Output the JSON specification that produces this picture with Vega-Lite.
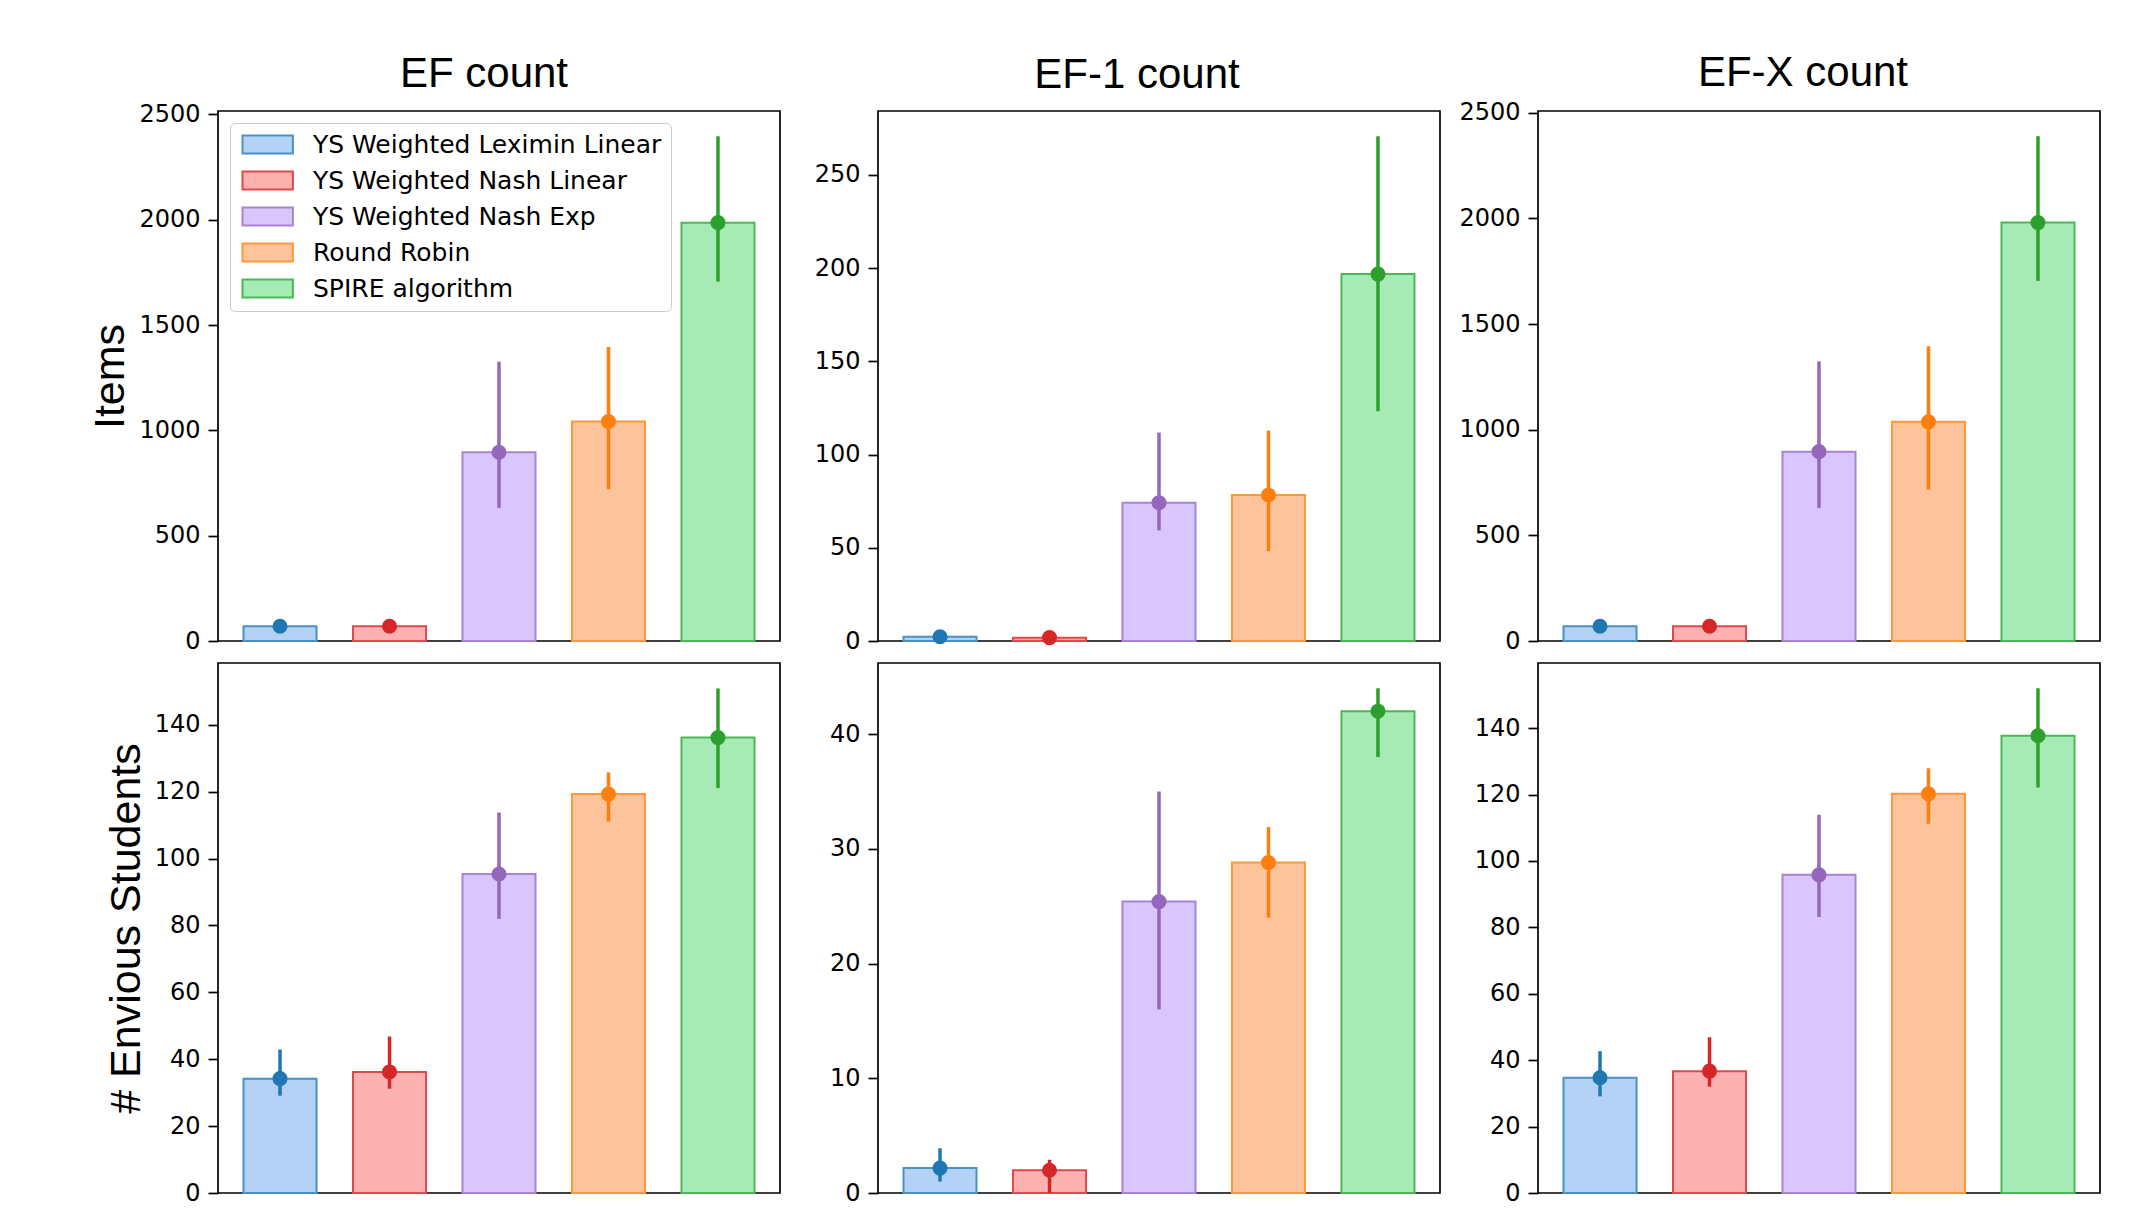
{
  "$schema": "https://vega.github.io/schema/vega-lite/v6.json",
  "background": "white",
  "padding": {"left": 89, "top": 50, "right": 52, "bottom": 21},
  "config": {
    "font": "Liberation Sans",
    "view": {"stroke": "#000000", "strokeWidth": 1.7},
    "axis": {"domain": false, "grid": false, "ticks": true, "tickColor": "#000000", "tickSize": 10, "tickWidth": 1.7, "labelFont": "DejaVu Sans", "labelFontSize": 24, "labelColor": "#000000", "labelPadding": 8, "labelOverlap": false, "labelFlush": false, "titleFont": "Liberation Sans", "titleFontSize": 43, "titleFontWeight": "normal", "titleColor": "#000000", "titlePadding": 6, "format": "d"},
    "title": {"font": "Liberation Sans", "fontSize": 42, "fontWeight": "normal", "color": "#000000", "anchor": "middle", "frame": "group", "baseline": "alphabetic"},
    "legend": {"orient": "top-left", "offset": 12, "symbolType": "M-1,-1L4.6,-1L4.6,1L-1,1Z", "symbolSize": 324, "symbolStrokeWidth": 2, "labelFont": "DejaVu Sans", "labelFontSize": 25, "labelColor": "#000000", "labelOffset": 49, "rowPadding": 9, "padding": 9, "strokeColor": "#cccccc", "fillColor": "#ffffff", "cornerRadius": 5, "labelLimit": 700}
  },
  "datasets": {
    "d": [
      {"panel": "EF_items", "method": "YS Weighted Leximin Linear", "value": 70, "lo": 62, "hi": 78},
      {"panel": "EF_items", "method": "YS Weighted Nash Linear", "value": 70, "lo": 62, "hi": 78},
      {"panel": "EF_items", "method": "YS Weighted Nash Exp", "value": 896, "lo": 632, "hi": 1326},
      {"panel": "EF_items", "method": "Round Robin", "value": 1042, "lo": 720, "hi": 1396},
      {"panel": "EF_items", "method": "SPIRE algorithm", "value": 1986, "lo": 1706, "hi": 2396},
      {"panel": "EF1_items", "method": "YS Weighted Leximin Linear", "value": 2.3, "lo": 1.5, "hi": 3.2},
      {"panel": "EF1_items", "method": "YS Weighted Nash Linear", "value": 1.8, "lo": 1.0, "hi": 2.6},
      {"panel": "EF1_items", "method": "YS Weighted Nash Exp", "value": 74.2, "lo": 59.3, "hi": 111.8},
      {"panel": "EF1_items", "method": "Round Robin", "value": 78.3, "lo": 48.2, "hi": 112.9},
      {"panel": "EF1_items", "method": "SPIRE algorithm", "value": 196.8, "lo": 123.3, "hi": 270.8},
      {"panel": "EFX_items", "method": "YS Weighted Leximin Linear", "value": 70, "lo": 62, "hi": 78},
      {"panel": "EFX_items", "method": "YS Weighted Nash Linear", "value": 70, "lo": 62, "hi": 78},
      {"panel": "EFX_items", "method": "YS Weighted Nash Exp", "value": 896, "lo": 629, "hi": 1323},
      {"panel": "EFX_items", "method": "Round Robin", "value": 1037, "lo": 717, "hi": 1395},
      {"panel": "EFX_items", "method": "SPIRE algorithm", "value": 1980, "lo": 1704, "hi": 2389},
      {"panel": "EF_env", "method": "YS Weighted Leximin Linear", "value": 34.2, "lo": 29.1, "hi": 42.9},
      {"panel": "EF_env", "method": "YS Weighted Nash Linear", "value": 36.2, "lo": 31.2, "hi": 46.8},
      {"panel": "EF_env", "method": "YS Weighted Nash Exp", "value": 95.4, "lo": 82.0, "hi": 113.8},
      {"panel": "EF_env", "method": "Round Robin", "value": 119.3, "lo": 111.1, "hi": 125.8},
      {"panel": "EF_env", "method": "SPIRE algorithm", "value": 136.2, "lo": 121.1, "hi": 150.9},
      {"panel": "EF1_env", "method": "YS Weighted Leximin Linear", "value": 2.17, "lo": 1.0, "hi": 3.9},
      {"panel": "EF1_env", "method": "YS Weighted Nash Linear", "value": 1.98, "lo": 0, "hi": 2.9},
      {"panel": "EF1_env", "method": "YS Weighted Nash Exp", "value": 25.4, "lo": 16.0, "hi": 35.0},
      {"panel": "EF1_env", "method": "Round Robin", "value": 28.8, "lo": 24.0, "hi": 31.9},
      {"panel": "EF1_env", "method": "SPIRE algorithm", "value": 42.0, "lo": 38.0, "hi": 44.0},
      {"panel": "EFX_env", "method": "YS Weighted Leximin Linear", "value": 34.7, "lo": 29.1, "hi": 42.7},
      {"panel": "EFX_env", "method": "YS Weighted Nash Linear", "value": 36.7, "lo": 32.0, "hi": 46.9},
      {"panel": "EFX_env", "method": "YS Weighted Nash Exp", "value": 95.8, "lo": 83.1, "hi": 113.9},
      {"panel": "EFX_env", "method": "Round Robin", "value": 120.2, "lo": 111.2, "hi": 127.9},
      {"panel": "EFX_env", "method": "SPIRE algorithm", "value": 137.7, "lo": 122.1, "hi": 152.0}
    ]
  },
  "data": {"name": "d"},
  "columns": 3,
  "bounds": "flush",
  "spacing": {"row": 22, "column": 98},
  "resolve": {"scale": {"fill": "independent", "stroke": "independent", "color": "independent", "y": "independent"}},
  "concat": [
    {
      "width": 562, "height": 530,
      "title": {"text": "EF count", "dx": -15, "offset": 6},
      "transform": [{"filter": "datum.panel == 'EF_items'"}],
      "layer": [
        {"mark": {"type": "bar", "strokeWidth": 2},
         "encoding": {
           "x": {"field": "method", "type": "nominal", "sort": null, "axis": null, "scale": {"domain": ["YS Weighted Leximin Linear", "YS Weighted Nash Linear", "YS Weighted Nash Exp", "Round Robin", "SPIRE algorithm"], "paddingInner": 0.333, "paddingOuter": 0.233}},
           "y": {"field": "value", "type": "quantitative", "title": "Items", "scale": {"domain": [0, 2516], "nice": false}, "axis": {"values": [0, 500, 1000, 1500, 2000, 2500]}},
           "fill": {"field": "method", "type": "nominal", "scale": {"domain": ["YS Weighted Leximin Linear", "YS Weighted Nash Linear", "YS Weighted Nash Exp", "Round Robin", "SPIRE algorithm"], "range": ["#b3d2f5", "#feb1b1", "#d9c6fd", "#fdc39a", "#a6eab5"]}, "legend": {"title": null}},
           "stroke": {"field": "method", "type": "nominal", "scale": {"domain": ["YS Weighted Leximin Linear", "YS Weighted Nash Linear", "YS Weighted Nash Exp", "Round Robin", "SPIRE algorithm"], "range": ["#4a91c7", "#e0494b", "#a784d4", "#ff973c", "#4db757"]}, "legend": {"title": null}}
         }},
        {"mark": {"type": "rule", "strokeWidth": 3.5},
         "encoding": {
           "x": {"field": "method", "type": "nominal", "sort": null},
           "y": {"field": "lo", "type": "quantitative", "title": "Items", "scale": {"domain": [0, 2516], "nice": false}},
           "y2": {"field": "hi"},
           "color": {"field": "method", "type": "nominal", "scale": {"domain": ["YS Weighted Leximin Linear", "YS Weighted Nash Linear", "YS Weighted Nash Exp", "Round Robin", "SPIRE algorithm"], "range": ["#1f77b4", "#d62728", "#9467bd", "#ff7f0e", "#2ca02c"]}, "legend": null}
         }},
        {"mark": {"type": "point", "filled": true, "size": 227, "opacity": 1},
         "encoding": {
           "x": {"field": "method", "type": "nominal", "sort": null},
           "y": {"field": "value", "type": "quantitative", "title": "Items", "scale": {"domain": [0, 2516], "nice": false}},
           "color": {"field": "method", "type": "nominal", "scale": {"domain": ["YS Weighted Leximin Linear", "YS Weighted Nash Linear", "YS Weighted Nash Exp", "Round Robin", "SPIRE algorithm"], "range": ["#1f77b4", "#d62728", "#9467bd", "#ff7f0e", "#2ca02c"]}, "legend": null}
         }}
      ]
    },
    {
      "width": 562, "height": 530,
      "title": {"text": "EF-1 count", "dx": -22, "offset": 14},
      "transform": [{"filter": "datum.panel == 'EF1_items'"}],
      "layer": [
        {"mark": {"type": "bar", "strokeWidth": 2},
         "encoding": {
           "x": {"field": "method", "type": "nominal", "sort": null, "axis": null, "scale": {"domain": ["YS Weighted Leximin Linear", "YS Weighted Nash Linear", "YS Weighted Nash Exp", "Round Robin", "SPIRE algorithm"], "paddingInner": 0.333, "paddingOuter": 0.233}},
           "y": {"field": "value", "type": "quantitative", "title": null, "scale": {"domain": [0, 284.3], "nice": false}, "axis": {"values": [0, 50, 100, 150, 200, 250]}},
           "fill": {"field": "method", "type": "nominal", "scale": {"domain": ["YS Weighted Leximin Linear", "YS Weighted Nash Linear", "YS Weighted Nash Exp", "Round Robin", "SPIRE algorithm"], "range": ["#b3d2f5", "#feb1b1", "#d9c6fd", "#fdc39a", "#a6eab5"]}, "legend": null},
           "stroke": {"field": "method", "type": "nominal", "scale": {"domain": ["YS Weighted Leximin Linear", "YS Weighted Nash Linear", "YS Weighted Nash Exp", "Round Robin", "SPIRE algorithm"], "range": ["#4a91c7", "#e0494b", "#a784d4", "#ff973c", "#4db757"]}, "legend": null}
         }},
        {"mark": {"type": "rule", "strokeWidth": 3.5},
         "encoding": {
           "x": {"field": "method", "type": "nominal", "sort": null},
           "y": {"field": "lo", "type": "quantitative", "title": null, "scale": {"domain": [0, 284.3], "nice": false}},
           "y2": {"field": "hi"},
           "color": {"field": "method", "type": "nominal", "scale": {"domain": ["YS Weighted Leximin Linear", "YS Weighted Nash Linear", "YS Weighted Nash Exp", "Round Robin", "SPIRE algorithm"], "range": ["#1f77b4", "#d62728", "#9467bd", "#ff7f0e", "#2ca02c"]}, "legend": null}
         }},
        {"mark": {"type": "point", "filled": true, "size": 227, "opacity": 1},
         "encoding": {
           "x": {"field": "method", "type": "nominal", "sort": null},
           "y": {"field": "value", "type": "quantitative", "title": null, "scale": {"domain": [0, 284.3], "nice": false}},
           "color": {"field": "method", "type": "nominal", "scale": {"domain": ["YS Weighted Leximin Linear", "YS Weighted Nash Linear", "YS Weighted Nash Exp", "Round Robin", "SPIRE algorithm"], "range": ["#1f77b4", "#d62728", "#9467bd", "#ff7f0e", "#2ca02c"]}, "legend": null}
         }}
      ]
    },
    {
      "width": 562, "height": 530,
      "title": {"text": "EF-X count", "dx": -16, "offset": 6},
      "transform": [{"filter": "datum.panel == 'EFX_items'"}],
      "layer": [
        {"mark": {"type": "bar", "strokeWidth": 2},
         "encoding": {
           "x": {"field": "method", "type": "nominal", "sort": null, "axis": null, "scale": {"domain": ["YS Weighted Leximin Linear", "YS Weighted Nash Linear", "YS Weighted Nash Exp", "Round Robin", "SPIRE algorithm"], "paddingInner": 0.333, "paddingOuter": 0.233}},
           "y": {"field": "value", "type": "quantitative", "title": null, "scale": {"domain": [0, 2508], "nice": false}, "axis": {"values": [0, 500, 1000, 1500, 2000, 2500]}},
           "fill": {"field": "method", "type": "nominal", "scale": {"domain": ["YS Weighted Leximin Linear", "YS Weighted Nash Linear", "YS Weighted Nash Exp", "Round Robin", "SPIRE algorithm"], "range": ["#b3d2f5", "#feb1b1", "#d9c6fd", "#fdc39a", "#a6eab5"]}, "legend": null},
           "stroke": {"field": "method", "type": "nominal", "scale": {"domain": ["YS Weighted Leximin Linear", "YS Weighted Nash Linear", "YS Weighted Nash Exp", "Round Robin", "SPIRE algorithm"], "range": ["#4a91c7", "#e0494b", "#a784d4", "#ff973c", "#4db757"]}, "legend": null}
         }},
        {"mark": {"type": "rule", "strokeWidth": 3.5},
         "encoding": {
           "x": {"field": "method", "type": "nominal", "sort": null},
           "y": {"field": "lo", "type": "quantitative", "title": null, "scale": {"domain": [0, 2508], "nice": false}},
           "y2": {"field": "hi"},
           "color": {"field": "method", "type": "nominal", "scale": {"domain": ["YS Weighted Leximin Linear", "YS Weighted Nash Linear", "YS Weighted Nash Exp", "Round Robin", "SPIRE algorithm"], "range": ["#1f77b4", "#d62728", "#9467bd", "#ff7f0e", "#2ca02c"]}, "legend": null}
         }},
        {"mark": {"type": "point", "filled": true, "size": 227, "opacity": 1},
         "encoding": {
           "x": {"field": "method", "type": "nominal", "sort": null},
           "y": {"field": "value", "type": "quantitative", "title": null, "scale": {"domain": [0, 2508], "nice": false}},
           "color": {"field": "method", "type": "nominal", "scale": {"domain": ["YS Weighted Leximin Linear", "YS Weighted Nash Linear", "YS Weighted Nash Exp", "Round Robin", "SPIRE algorithm"], "range": ["#1f77b4", "#d62728", "#9467bd", "#ff7f0e", "#2ca02c"]}, "legend": null}
         }}
      ]
    },
    {
      "width": 562, "height": 530,
      "transform": [{"filter": "datum.panel == 'EF_env'"}],
      "layer": [
        {"mark": {"type": "bar", "strokeWidth": 2},
         "encoding": {
           "x": {"field": "method", "type": "nominal", "sort": null, "axis": null, "scale": {"domain": ["YS Weighted Leximin Linear", "YS Weighted Nash Linear", "YS Weighted Nash Exp", "Round Robin", "SPIRE algorithm"], "paddingInner": 0.333, "paddingOuter": 0.233}},
           "y": {"field": "value", "type": "quantitative", "title": "# Envious Students", "scale": {"domain": [0, 158.5], "nice": false}, "axis": {"values": [0, 20, 40, 60, 80, 100, 120, 140]}},
           "fill": {"field": "method", "type": "nominal", "scale": {"domain": ["YS Weighted Leximin Linear", "YS Weighted Nash Linear", "YS Weighted Nash Exp", "Round Robin", "SPIRE algorithm"], "range": ["#b3d2f5", "#feb1b1", "#d9c6fd", "#fdc39a", "#a6eab5"]}, "legend": null},
           "stroke": {"field": "method", "type": "nominal", "scale": {"domain": ["YS Weighted Leximin Linear", "YS Weighted Nash Linear", "YS Weighted Nash Exp", "Round Robin", "SPIRE algorithm"], "range": ["#4a91c7", "#e0494b", "#a784d4", "#ff973c", "#4db757"]}, "legend": null}
         }},
        {"mark": {"type": "rule", "strokeWidth": 3.5},
         "encoding": {
           "x": {"field": "method", "type": "nominal", "sort": null},
           "y": {"field": "lo", "type": "quantitative", "title": "# Envious Students", "scale": {"domain": [0, 158.5], "nice": false}},
           "y2": {"field": "hi"},
           "color": {"field": "method", "type": "nominal", "scale": {"domain": ["YS Weighted Leximin Linear", "YS Weighted Nash Linear", "YS Weighted Nash Exp", "Round Robin", "SPIRE algorithm"], "range": ["#1f77b4", "#d62728", "#9467bd", "#ff7f0e", "#2ca02c"]}, "legend": null}
         }},
        {"mark": {"type": "point", "filled": true, "size": 227, "opacity": 1},
         "encoding": {
           "x": {"field": "method", "type": "nominal", "sort": null},
           "y": {"field": "value", "type": "quantitative", "title": "# Envious Students", "scale": {"domain": [0, 158.5], "nice": false}},
           "color": {"field": "method", "type": "nominal", "scale": {"domain": ["YS Weighted Leximin Linear", "YS Weighted Nash Linear", "YS Weighted Nash Exp", "Round Robin", "SPIRE algorithm"], "range": ["#1f77b4", "#d62728", "#9467bd", "#ff7f0e", "#2ca02c"]}, "legend": null}
         }}
      ]
    },
    {
      "width": 562, "height": 530,
      "transform": [{"filter": "datum.panel == 'EF1_env'"}],
      "layer": [
        {"mark": {"type": "bar", "strokeWidth": 2},
         "encoding": {
           "x": {"field": "method", "type": "nominal", "sort": null, "axis": null, "scale": {"domain": ["YS Weighted Leximin Linear", "YS Weighted Nash Linear", "YS Weighted Nash Exp", "Round Robin", "SPIRE algorithm"], "paddingInner": 0.333, "paddingOuter": 0.233}},
           "y": {"field": "value", "type": "quantitative", "title": null, "scale": {"domain": [0, 46.2], "nice": false}, "axis": {"values": [0, 10, 20, 30, 40]}},
           "fill": {"field": "method", "type": "nominal", "scale": {"domain": ["YS Weighted Leximin Linear", "YS Weighted Nash Linear", "YS Weighted Nash Exp", "Round Robin", "SPIRE algorithm"], "range": ["#b3d2f5", "#feb1b1", "#d9c6fd", "#fdc39a", "#a6eab5"]}, "legend": null},
           "stroke": {"field": "method", "type": "nominal", "scale": {"domain": ["YS Weighted Leximin Linear", "YS Weighted Nash Linear", "YS Weighted Nash Exp", "Round Robin", "SPIRE algorithm"], "range": ["#4a91c7", "#e0494b", "#a784d4", "#ff973c", "#4db757"]}, "legend": null}
         }},
        {"mark": {"type": "rule", "strokeWidth": 3.5},
         "encoding": {
           "x": {"field": "method", "type": "nominal", "sort": null},
           "y": {"field": "lo", "type": "quantitative", "title": null, "scale": {"domain": [0, 46.2], "nice": false}},
           "y2": {"field": "hi"},
           "color": {"field": "method", "type": "nominal", "scale": {"domain": ["YS Weighted Leximin Linear", "YS Weighted Nash Linear", "YS Weighted Nash Exp", "Round Robin", "SPIRE algorithm"], "range": ["#1f77b4", "#d62728", "#9467bd", "#ff7f0e", "#2ca02c"]}, "legend": null}
         }},
        {"mark": {"type": "point", "filled": true, "size": 227, "opacity": 1},
         "encoding": {
           "x": {"field": "method", "type": "nominal", "sort": null},
           "y": {"field": "value", "type": "quantitative", "title": null, "scale": {"domain": [0, 46.2], "nice": false}},
           "color": {"field": "method", "type": "nominal", "scale": {"domain": ["YS Weighted Leximin Linear", "YS Weighted Nash Linear", "YS Weighted Nash Exp", "Round Robin", "SPIRE algorithm"], "range": ["#1f77b4", "#d62728", "#9467bd", "#ff7f0e", "#2ca02c"]}, "legend": null}
         }}
      ]
    },
    {
      "width": 562, "height": 530,
      "transform": [{"filter": "datum.panel == 'EFX_env'"}],
      "layer": [
        {"mark": {"type": "bar", "strokeWidth": 2},
         "encoding": {
           "x": {"field": "method", "type": "nominal", "sort": null, "axis": null, "scale": {"domain": ["YS Weighted Leximin Linear", "YS Weighted Nash Linear", "YS Weighted Nash Exp", "Round Robin", "SPIRE algorithm"], "paddingInner": 0.333, "paddingOuter": 0.233}},
           "y": {"field": "value", "type": "quantitative", "title": null, "scale": {"domain": [0, 159.6], "nice": false}, "axis": {"values": [0, 20, 40, 60, 80, 100, 120, 140]}},
           "fill": {"field": "method", "type": "nominal", "scale": {"domain": ["YS Weighted Leximin Linear", "YS Weighted Nash Linear", "YS Weighted Nash Exp", "Round Robin", "SPIRE algorithm"], "range": ["#b3d2f5", "#feb1b1", "#d9c6fd", "#fdc39a", "#a6eab5"]}, "legend": null},
           "stroke": {"field": "method", "type": "nominal", "scale": {"domain": ["YS Weighted Leximin Linear", "YS Weighted Nash Linear", "YS Weighted Nash Exp", "Round Robin", "SPIRE algorithm"], "range": ["#4a91c7", "#e0494b", "#a784d4", "#ff973c", "#4db757"]}, "legend": null}
         }},
        {"mark": {"type": "rule", "strokeWidth": 3.5},
         "encoding": {
           "x": {"field": "method", "type": "nominal", "sort": null},
           "y": {"field": "lo", "type": "quantitative", "title": null, "scale": {"domain": [0, 159.6], "nice": false}},
           "y2": {"field": "hi"},
           "color": {"field": "method", "type": "nominal", "scale": {"domain": ["YS Weighted Leximin Linear", "YS Weighted Nash Linear", "YS Weighted Nash Exp", "Round Robin", "SPIRE algorithm"], "range": ["#1f77b4", "#d62728", "#9467bd", "#ff7f0e", "#2ca02c"]}, "legend": null}
         }},
        {"mark": {"type": "point", "filled": true, "size": 227, "opacity": 1},
         "encoding": {
           "x": {"field": "method", "type": "nominal", "sort": null},
           "y": {"field": "value", "type": "quantitative", "title": null, "scale": {"domain": [0, 159.6], "nice": false}},
           "color": {"field": "method", "type": "nominal", "scale": {"domain": ["YS Weighted Leximin Linear", "YS Weighted Nash Linear", "YS Weighted Nash Exp", "Round Robin", "SPIRE algorithm"], "range": ["#1f77b4", "#d62728", "#9467bd", "#ff7f0e", "#2ca02c"]}, "legend": null}
         }}
      ]
    }
  ]
}
